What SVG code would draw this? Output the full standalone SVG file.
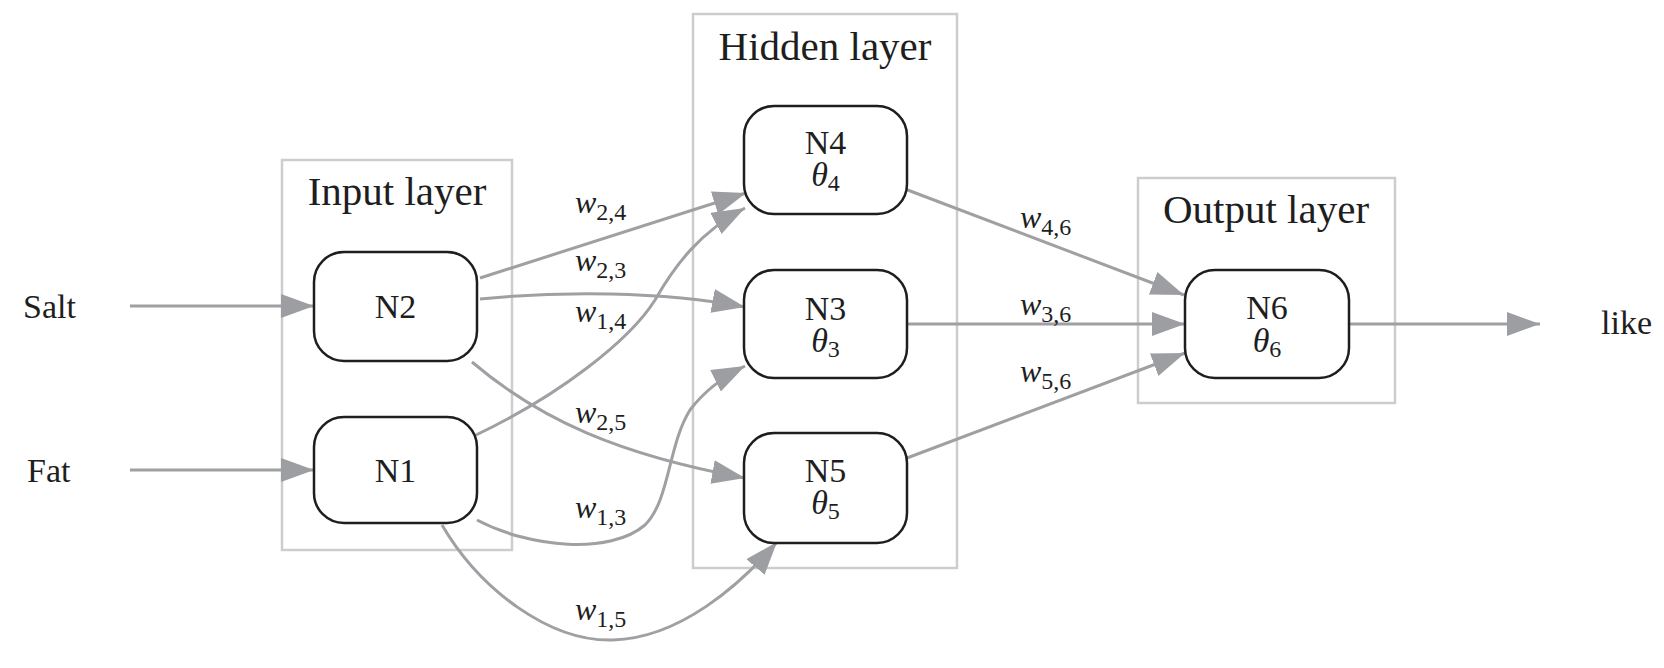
<svg xmlns="http://www.w3.org/2000/svg" width="1664" height="668" viewBox="0 0 1664 668">
<defs>
<style>
.layer{fill:none;stroke:#cdcdcd;stroke-width:2.5}
.node{fill:#fff;stroke:#1e1e1e;stroke-width:2.5}
.conn{fill:none;stroke:#a0a0a4;stroke-width:3}
text{font-family:"Liberation Serif","Times New Roman",serif;fill:#1e1e1e}
.title{font-size:41px;text-anchor:middle}
.lbl{font-size:34px;text-anchor:middle}
.io{font-size:34px}
.w{font-size:32px}
.it{font-style:italic}
.sub{font-size:24px;font-style:normal}
</style>
<marker id="ah" markerUnits="userSpaceOnUse" markerWidth="36" markerHeight="26" refX="33" refY="12" orient="auto">
<path d="M0,0 L33,12 L0,24 z" fill="#9d9ea2"/>
</marker>
</defs>
<rect width="1664" height="668" fill="#fff"/>

<g id="layers">
<g id="input-layer"><rect class="layer" x="282" y="160" width="230" height="390"/><text class="title" x="397" y="205">Input layer</text></g>
<g id="hidden-layer"><rect class="layer" x="693" y="14" width="264" height="554"/><text class="title" x="825" y="60">Hidden layer</text></g>
<g id="output-layer"><rect class="layer" x="1138" y="178" width="257" height="225"/><text class="title" x="1266" y="223">Output layer</text></g>
</g>

<g id="connectors">
<path class="conn" d="M130,306 L314,306" marker-end="url(#ah)"/>
<path class="conn" d="M130,470 L314,470" marker-end="url(#ah)"/>
<path class="conn" d="M480,278 L746,193" marker-end="url(#ah)"/>
<path class="conn" d="M480,299 C560,291 660,291 745,307" marker-end="url(#ah)"/>
<path class="conn" d="M476,435 C560,395 630,340 655,300 C675,265 700,232 745,208" marker-end="url(#ah)"/>
<path class="conn" d="M472,362 C540,420 620,455 745,478" marker-end="url(#ah)"/>
<path class="conn" d="M477,520 C530,548 610,555 645,525 C670,500 668,445 690,410 C705,390 725,376 745,366" marker-end="url(#ah)"/>
<path class="conn" d="M442,525 C480,590 550,642 613,640 C680,638 740,585 777,542" marker-end="url(#ah)"/>
<path class="conn" d="M905,189 L1184,295" marker-end="url(#ah)"/>
<path class="conn" d="M907,324 L1185,324" marker-end="url(#ah)"/>
<path class="conn" d="M907,458 L1185,353" marker-end="url(#ah)"/>
<path class="conn" d="M1349,324 L1540,324" marker-end="url(#ah)"/>
</g>

<g id="weights">
<text class="w" x="575" y="213"><tspan class="it">w</tspan><tspan class="sub" dy="7">2,4</tspan></text>
<text class="w" x="575" y="271"><tspan class="it">w</tspan><tspan class="sub" dy="7">2,3</tspan></text>
<text class="w" x="575" y="322"><tspan class="it">w</tspan><tspan class="sub" dy="7">1,4</tspan></text>
<text class="w" x="575" y="423"><tspan class="it">w</tspan><tspan class="sub" dy="7">2,5</tspan></text>
<text class="w" x="575" y="518"><tspan class="it">w</tspan><tspan class="sub" dy="7">1,3</tspan></text>
<text class="w" x="575" y="620"><tspan class="it">w</tspan><tspan class="sub" dy="7">1,5</tspan></text>
<text class="w" x="1020" y="228"><tspan class="it">w</tspan><tspan class="sub" dy="7">4,6</tspan></text>
<text class="w" x="1020" y="315"><tspan class="it">w</tspan><tspan class="sub" dy="7">3,6</tspan></text>
<text class="w" x="1020" y="382"><tspan class="it">w</tspan><tspan class="sub" dy="7">5,6</tspan></text>
</g>

<g id="salt"><text class="io" x="23" y="318">Salt</text></g>
<g id="fat"><text class="io" x="27" y="482">Fat</text></g>
<g id="like"><text class="io" x="1601" y="334">like</text></g>

<g id="N2"><rect class="node" x="314" y="252" width="163" height="109" rx="30"/><text class="lbl" x="395.5" y="318">N2</text></g>
<g id="N1"><rect class="node" x="314" y="417" width="163" height="106" rx="30"/><text class="lbl" x="395.5" y="482">N1</text></g>
<g id="N4"><rect class="node" x="744" y="106" width="163" height="108" rx="30"/><text class="lbl" x="825.5" y="154">N4<tspan x="825.5" dy="32" class="it">θ</tspan><tspan class="sub" dy="5">4</tspan></text></g>
<g id="N3"><rect class="node" x="744" y="270" width="163" height="108" rx="30"/><text class="lbl" x="825.5" y="320">N3<tspan x="825.5" dy="32" class="it">θ</tspan><tspan class="sub" dy="5">3</tspan></text></g>
<g id="N5"><rect class="node" x="744" y="433" width="163" height="110" rx="30"/><text class="lbl" x="825.5" y="482">N5<tspan x="825.5" dy="32" class="it">θ</tspan><tspan class="sub" dy="5">5</tspan></text></g>
<g id="N6"><rect class="node" x="1185" y="270" width="164" height="108" rx="30"/><text class="lbl" x="1267" y="319">N6<tspan x="1267" dy="33" class="it">θ</tspan><tspan class="sub" dy="5">6</tspan></text></g>
</svg>
